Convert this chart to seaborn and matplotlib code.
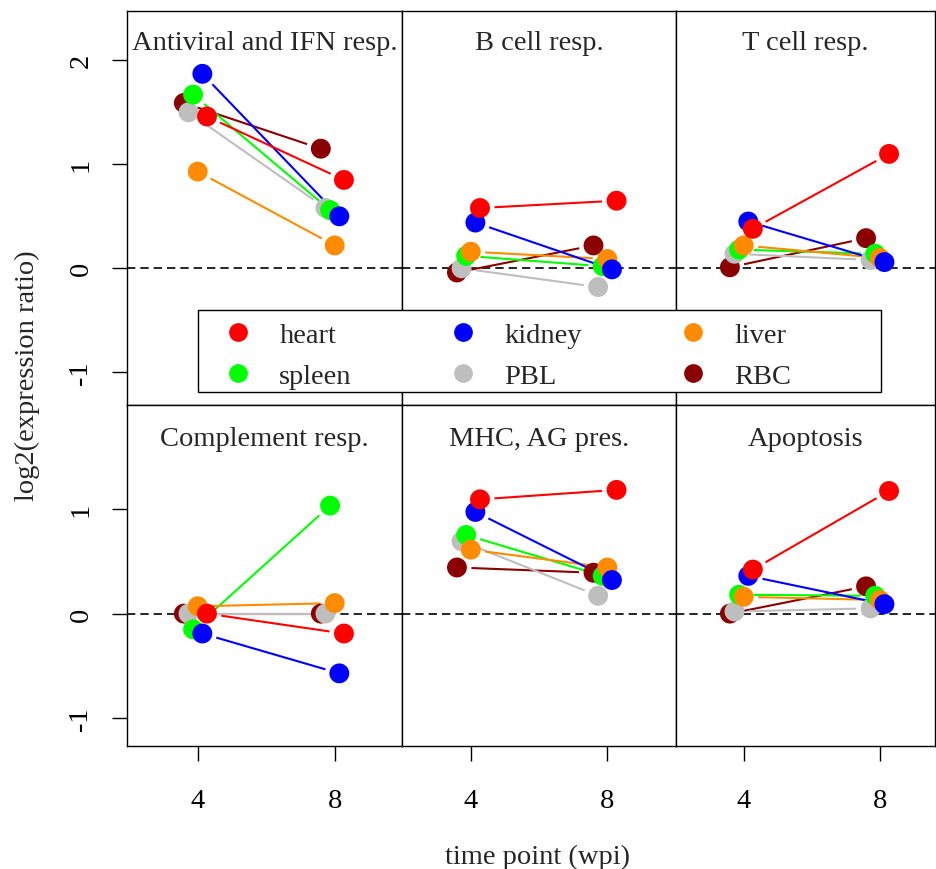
import numpy as np
import pandas as pd
import matplotlib
matplotlib.use("Agg")
import matplotlib.pyplot as plt
from matplotlib.lines import Line2D
from matplotlib.patches import Rectangle
import seaborn as sns

# ---- data -------------------------------------------------------------
tissues = ["heart", "kidney", "liver", "spleen", "PBL", "RBC"]
tissue_colors = ["#FF0000", "#0000FF", "#FF8C00", "#00FF00", "#BEBEBE", "#8B0000"]
weeks = [4, 8]
week_ticks = ["4", "8"]
panels = ["Antiviral and IFN resp.", "B cell resp.", "T cell resp.",
          "Complement resp.", "MHC, AG pres.", "Apoptosis"]

# log2(expression ratio) per tissue at [4 wpi, 8 wpi]
antiviral = {"heart": [1.46, 0.85], "kidney": [1.87, 0.50], "liver": [0.93, 0.22],
             "spleen": [1.67, 0.56], "PBL": [1.50, 0.58], "RBC": [1.59, 1.15]}
b_cell = {"heart": [0.58, 0.65], "kidney": [0.44, -0.01], "liver": [0.16, 0.09],
          "spleen": [0.12, 0.02], "PBL": [0.00, -0.18], "RBC": [-0.04, 0.22]}
t_cell = {"heart": [0.38, 1.10], "kidney": [0.45, 0.06], "liver": [0.22, 0.10],
          "spleen": [0.18, 0.14], "PBL": [0.14, 0.08], "RBC": [0.01, 0.29]}
complement = {"heart": [0.00, -0.19], "kidney": [-0.19, -0.57], "liver": [0.07, 0.10],
              "spleen": [-0.15, 1.03], "PBL": [0.00, 0.00], "RBC": [0.00, 0.00]}
mhc = {"heart": [1.09, 1.18], "kidney": [0.97, 0.32], "liver": [0.61, 0.44],
       "spleen": [0.75, 0.36], "PBL": [0.69, 0.17], "RBC": [0.44, 0.39]}
apoptosis = {"heart": [0.42, 1.17], "kidney": [0.36, 0.09], "liver": [0.16, 0.13],
             "spleen": [0.18, 0.17], "PBL": [0.02, 0.05], "RBC": [0.00, 0.26]}

panel_values = [antiviral, b_cell, t_cell, complement, mhc, apoptosis]

rows = []
for name, vals in zip(panels, panel_values):
    for t in tissues:
        for w, v in zip(weeks, vals[t]):
            rows.append({"panel": name, "tissue": t, "week": w, "ratio": v})
df = pd.DataFrame(rows)

# small horizontal dodge so overlapping tissues stay visible
dodge_step = 0.135
dodge_index = {"heart": 2, "kidney": 1, "liver": 0, "spleen": -1, "PBL": -2, "RBC": -3}
df["xpos"] = df["week"] + df["tissue"].map(dodge_index) * dodge_step
draw_order = {t: i for i, t in enumerate(reversed(tissues))}
df["order"] = df["tissue"].map(draw_order)
df = df.sort_values(["panel", "order", "week"]).reset_index(drop=True)
palette = dict(zip(tissues, tissue_colors))

# ---- style ------------------------------------------------------------
sns.set_style("white")
plt.rcParams["font.family"] = ["Liberation Serif", "DejaVu Serif"]
FS = 20.5

W, H = 937, 870
fig = plt.figure(figsize=(W / 100, H / 100), dpi=100)

col_edges = [126.5, 402.5, 675.6, 935.0]
row_edges = [12.0, 406.0, 746.7]
xlims = [(1.92, 9.98), (2.0, 10.0), (2.0, 9.62)]
ylims = [(-1.314, 2.474), (-1.26, 1.99)]
yticks = [[-1, 0, 1, 2], [-1, 0, 1]]
title_offset = [31, 34]
gap_px = 14.5

for i, (name, vals) in enumerate(zip(panels, panel_values)):
    r, c = divmod(i, 3)
    x0, x1 = col_edges[c], col_edges[c + 1]
    y0, y1 = row_edges[r], row_edges[r + 1]
    ax = fig.add_axes([x0 / W, 1 - y1 / H, (x1 - x0) / W, (y1 - y0) / H])
    ax.set_xlim(*xlims[c])
    ax.set_ylim(*ylims[r])

    ax.axhline(0, color="black", lw=1.2, ls=(0, (5, 3)), zorder=1)

    sub = df[df["panel"] == name]

    # connecting segments, trimmed so they stop short of the markers
    inv = ax.transData.inverted()
    for t in reversed(tissues):
        s = sub[sub["tissue"] == t].sort_values("week")
        pts = ax.transData.transform(s[["xpos", "ratio"]].to_numpy())
        d = pts[1] - pts[0]
        L = np.hypot(*d)
        if L <= 2 * gap_px:
            continue
        u = d / L
        a, b = inv.transform([pts[0] + u * gap_px, pts[1] - u * gap_px])
        ax.plot([a[0], b[0]], [a[1], b[1]], color=palette[t], lw=1.5,
                solid_capstyle="butt", zorder=2)

    sns.scatterplot(data=sub, x="xpos", y="ratio", hue="tissue",
                    palette=palette, s=205, linewidth=0, legend=False,
                    ax=ax, zorder=3)
    ax.set_xlabel("")
    ax.set_ylabel("")

    ax.text(0.5, 1 - title_offset[r] / (y1 - y0), name, transform=ax.transAxes,
            ha="center", va="center", fontsize=FS)

    for sp in ax.spines.values():
        sp.set_visible(True)
        sp.set_color("black")
        sp.set_linewidth(1.0)

    ax.tick_params(axis="both", direction="out", length=10.8, width=1.0,
                   colors="black", labelsize=FS)
    if c == 0:
        ax.set_yticks(yticks[r])
        ax.set_yticklabels([str(v) for v in yticks[r]], rotation=90, va="center")
        ax.tick_params(axis="y", pad=13, left=True)
    else:
        ax.set_yticks([])
    if r == 1:
        ax.set_xticks(weeks)
        ax.set_xticklabels(week_ticks)
        ax.tick_params(axis="x", pad=20, bottom=True)
    else:
        ax.set_xticks([])

fig.text(27 / W, 1 - 376 / H, "log2(expression ratio)", rotation=90,
         ha="center", va="center", fontsize=FS)
fig.text(538 / W, 1 - 857 / H, "time point (wpi)", ha="center", va="center",
         fontsize=FS)

# legend box
fig.patches.append(Rectangle((198 / W, 1 - 393 / H), (881 - 198) / W, (393 - 311) / H,
                             transform=fig.transFigure, facecolor="white",
                             edgecolor="black", linewidth=1.0, zorder=1))

# legend entries, filled column by column: heart/spleen, kidney/PBL, liver/RBC
leg_order = ["heart", "spleen", "kidney", "PBL", "liver", "RBC"]
handles = [Line2D([], [], ls="none", marker="o", markersize=13.5,
                  markerfacecolor=palette[t], markeredgewidth=0) for t in leg_order]
leg = fig.legend(handles, leg_order, ncol=3, loc="upper left",
                 bbox_to_anchor=(224 / W, 1 - 323 / H),
                 frameon=False, fontsize=FS, handlelength=1.0,
                 handletextpad=0.94, columnspacing=3.42, labelspacing=0.53,
                 borderpad=0, borderaxespad=0)
leg.set_zorder(6)

fig.savefig("out.png", dpi=100)
